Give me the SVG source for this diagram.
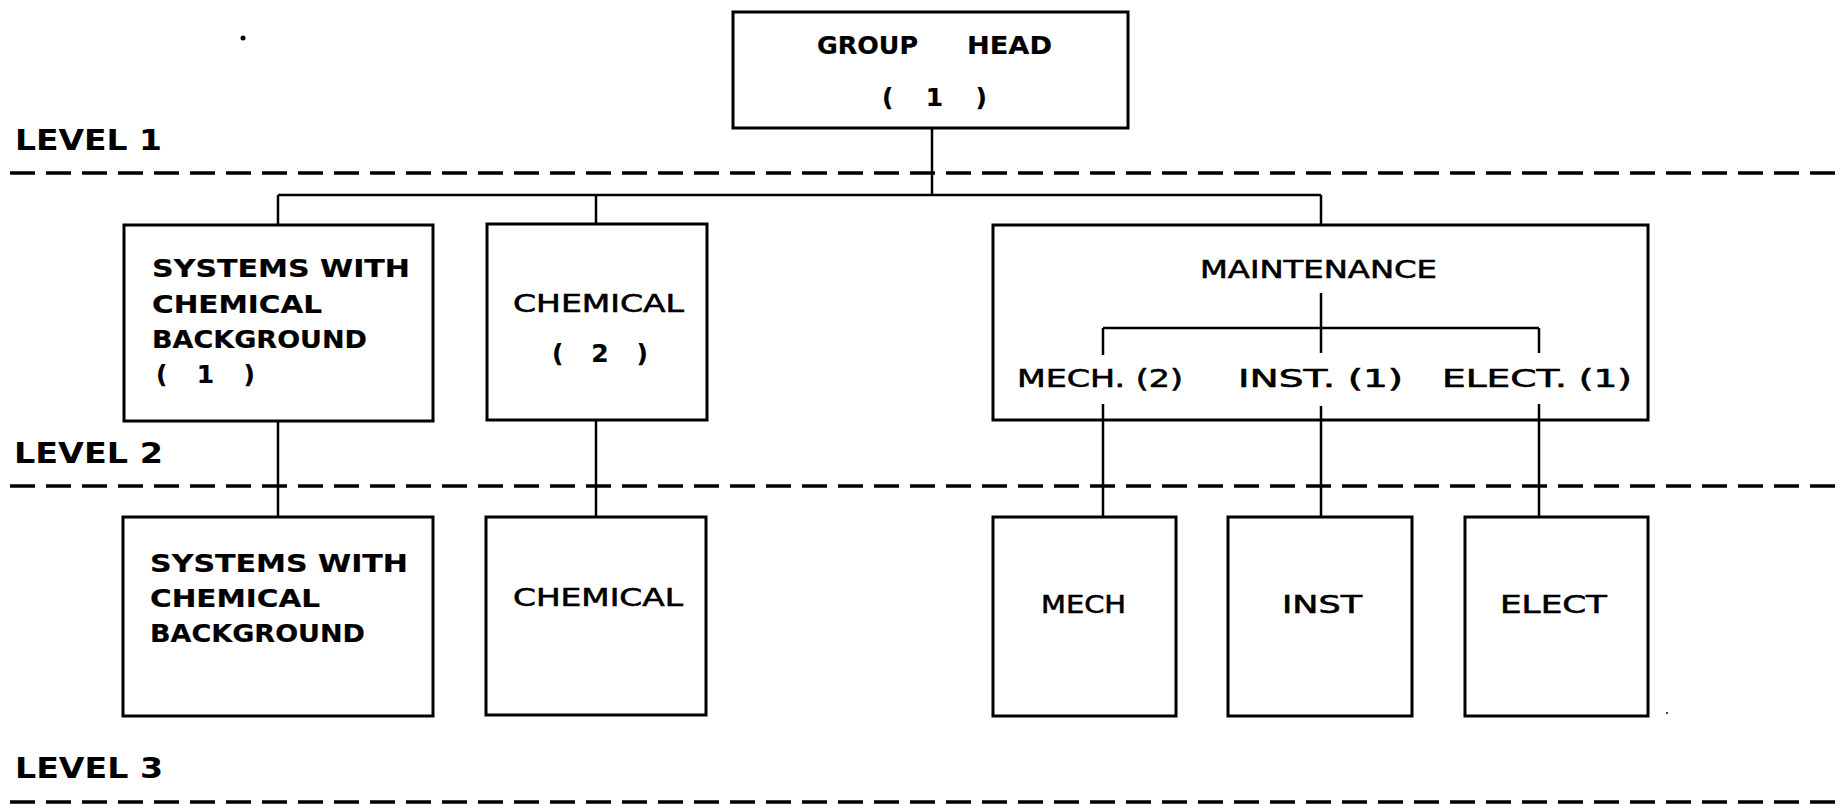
<svg xmlns="http://www.w3.org/2000/svg" width="1843" height="807" viewBox="0 0 1843 807">
<style>
  .box { fill: #fff; stroke: #000; stroke-width: 3; }
  .conn { stroke: #000; stroke-width: 2.5; fill: none; }
  .dash { stroke: #000; stroke-width: 3.5; stroke-dasharray: 25 11; fill: none; }
  .t { font-family: "DejaVu Sans", "Liberation Sans", sans-serif; font-size: 25px; fill: #000; stroke: #000; stroke-width: 0.6; }
  .b { font-weight: bold; stroke-width: 0.2; }
  .lv { font-family: "DejaVu Sans", "Liberation Sans", sans-serif; font-size: 28px; font-weight: bold; fill: #000; }
</style>
<rect width="1843" height="807" fill="#fff"/>

<g id="levels">
  <line class="dash" x1="10" y1="173" x2="1843" y2="173"/>
  <line class="dash" x1="10" y1="486" x2="1843" y2="486"/>
  <line class="dash" x1="10" y1="802" x2="1843" y2="802"/>
  <text class="lv" x="15" y="150" textLength="147" lengthAdjust="spacingAndGlyphs">LEVEL 1</text>
  <text class="lv" x="14" y="463" textLength="149" lengthAdjust="spacingAndGlyphs">LEVEL 2</text>
  <text class="lv" x="15" y="778" textLength="148" lengthAdjust="spacingAndGlyphs">LEVEL 3</text>
</g>

<g id="group-head">
  <rect class="box" x="733" y="12" width="395" height="116"/>
  <text class="t b" y="54"><tspan x="817" textLength="101" lengthAdjust="spacingAndGlyphs">GROUP</tspan> <tspan x="967" textLength="85" lengthAdjust="spacingAndGlyphs">HEAD</tspan></text>
  <text class="t b" x="882" y="106" textLength="105" lengthAdjust="spacing">( 1 )</text>
</g>

<g id="systems-l2">
  <rect class="box" x="124" y="225" width="309" height="196"/>
  <text class="t b" x="152" y="277" textLength="258" lengthAdjust="spacingAndGlyphs">SYSTEMS WITH</text>
  <text class="t b" x="152" y="313" textLength="170" lengthAdjust="spacingAndGlyphs">CHEMICAL</text>
  <text class="t b" x="152" y="348" textLength="215" lengthAdjust="spacingAndGlyphs">BACKGROUND</text>
  <text class="t b" x="156" y="383" textLength="99" lengthAdjust="spacing">( 1 )</text>
</g>

<g id="chemical-l2">
  <rect class="box" x="487" y="224" width="220" height="196"/>
  <text class="t" x="513" y="312" textLength="171" lengthAdjust="spacingAndGlyphs">CHEMICAL</text>
  <text class="t b" x="552" y="362" textLength="96" lengthAdjust="spacing">( 2 )</text>
</g>

<g id="maintenance">
  <rect class="box" x="993" y="225" width="655" height="195"/>
  <text class="t" x="1200" y="278" textLength="237" lengthAdjust="spacingAndGlyphs">MAINTENANCE</text>
  <text class="t" x="1017" y="387" textLength="166" lengthAdjust="spacingAndGlyphs">MECH. (2)</text>
  <text class="t" x="1238" y="387" textLength="165" lengthAdjust="spacingAndGlyphs">INST. (1)</text>
  <text class="t" x="1442" y="387" textLength="190" lengthAdjust="spacingAndGlyphs">ELECT. (1)</text>
</g>

<g id="systems-l3">
  <rect class="box" x="123" y="517" width="310" height="199"/>
  <text class="t b" x="150" y="572" textLength="258" lengthAdjust="spacingAndGlyphs">SYSTEMS WITH</text>
  <text class="t b" x="150" y="607" textLength="170" lengthAdjust="spacingAndGlyphs">CHEMICAL</text>
  <text class="t b" x="150" y="642" textLength="215" lengthAdjust="spacingAndGlyphs">BACKGROUND</text>
</g>

<g id="chemical-l3">
  <rect class="box" x="486" y="517" width="220" height="198"/>
  <text class="t" x="513" y="606" textLength="170" lengthAdjust="spacingAndGlyphs">CHEMICAL</text>
</g>

<g id="mech">
  <rect class="box" x="993" y="517" width="183" height="199"/>
  <text class="t" x="1041" y="613" textLength="85" lengthAdjust="spacingAndGlyphs">MECH</text>
</g>

<g id="inst">
  <rect class="box" x="1228" y="517" width="184" height="199"/>
  <text class="t" x="1282" y="613" textLength="80" lengthAdjust="spacingAndGlyphs">INST</text>
</g>

<g id="elect">
  <rect class="box" x="1465" y="517" width="183" height="199"/>
  <text class="t" x="1500" y="613" textLength="107" lengthAdjust="spacingAndGlyphs">ELECT</text>
</g>

<g id="connectors">
  <line class="conn" x1="932" y1="128" x2="932" y2="196"/>
  <line class="conn" x1="278" y1="195" x2="1321" y2="195"/>
  <line class="conn" x1="278" y1="195" x2="278" y2="225"/>
  <line class="conn" x1="596" y1="195" x2="596" y2="224"/>
  <line class="conn" x1="1321" y1="195" x2="1321" y2="225"/>
  <line class="conn" x1="278" y1="421" x2="278" y2="517"/>
  <line class="conn" x1="596" y1="420" x2="596" y2="517"/>
  <line class="conn" x1="1321" y1="293" x2="1321" y2="353"/>
  <line class="conn" x1="1103" y1="328" x2="1539" y2="328"/>
  <line class="conn" x1="1103" y1="328" x2="1103" y2="355"/>
  <line class="conn" x1="1539" y1="328" x2="1539" y2="353"/>
  <line class="conn" x1="1103" y1="404" x2="1103" y2="517"/>
  <line class="conn" x1="1321" y1="406" x2="1321" y2="517"/>
  <line class="conn" x1="1539" y1="404" x2="1539" y2="517"/>
</g>

<circle cx="243" cy="38" r="2.5" fill="#000"/>
<circle cx="1667" cy="713" r="1" fill="#000"/>
</svg>
